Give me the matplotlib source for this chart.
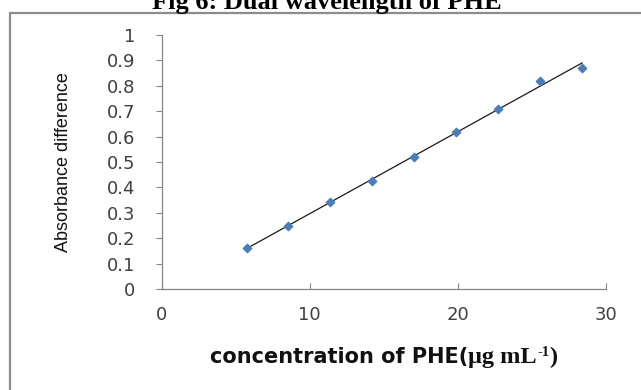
import numpy as np
import matplotlib
matplotlib.use("Agg")
import matplotlib.pyplot as plt
from matplotlib.patches import Rectangle

# concentration of PHE (ug/mL) vs absorbance difference
conc = [5.74, 8.54, 11.38, 14.24, 17.05, 19.88, 22.71, 25.57, 28.41]
absorb = [0.162, 0.247, 0.343, 0.427, 0.521, 0.619, 0.709, 0.819, 0.870]
x_ticks = [0, 10, 20, 30]
y_ticks = [0, 0.1, 0.2, 0.3, 0.4, 0.5, 0.6, 0.7, 0.8, 0.9, 1]
y_ticklabels = ["0", "0.1", "0.2", "0.3", "0.4", "0.5", "0.6", "0.7", "0.8", "0.9", "1"]

W, H = 641, 390
AXIS_GRAY = "#868686"
TEXT_GRAY = "#404040"

fig = plt.figure(figsize=(W / 100, H / 100), dpi=100)
fig.patch.set_facecolor("white")

# outer frame (runs off the right and bottom edges)
fig.patches.append(Rectangle((10 / W, -0.1), 1.2, 1 - 13 / H + 0.1,
                             transform=fig.transFigure, fill=False,
                             edgecolor="#8c8c8c", linewidth=1.6))

ax = fig.add_axes([161.7 / W, 1 - 289.3 / H, 444 / W, 254.6 / H])
ax.set_xlim(0, 30)
ax.set_ylim(0, 1)

# linear trendline over data range
slope, icpt = np.polyfit(conc, absorb, 1)
xs = np.array([min(conc), max(conc)])
ax.plot(xs, slope * xs + icpt, color="#1a1a1a", lw=0.9, zorder=2)
ax.scatter(conc, absorb, marker="D", s=18, color="#4a7ebb",
           edgecolors="#4a7ebb", zorder=3)

for side in ("top", "right"):
    ax.spines[side].set_visible(False)
for side in ("left", "bottom"):
    ax.spines[side].set_color(AXIS_GRAY)
    ax.spines[side].set_linewidth(0.9)

ax.set_xticks(x_ticks)
ax.set_yticks(y_ticks)
ax.set_yticklabels(y_ticklabels)
ax.tick_params(axis="x", direction="in", length=4, width=0.8,
               color=AXIS_GRAY, pad=12, labelsize=13, labelcolor=TEXT_GRAY)
ax.tick_params(axis="y", direction="out", length=4, width=0.8,
               color=AXIS_GRAY, pad=15, labelsize=13, labelcolor=TEXT_GRAY)

# title, cropped at the top edge like the source
fig.text(327 / W, 1 - 9 / H, "Fig 6: Dual wavelength of PHE",
         ha="center", va="baseline", fontsize=19, fontweight="bold",
         family=["Liberation Serif", "DejaVu Serif"])

# y axis title
fig.text(63 / W, 1 - 162 / H, "Absorbance difference", rotation=90,
         ha="center", va="center", fontsize=13, color="#111111",
         family=["Liberation Sans", "DejaVu Sans"])

# x axis title built from pieces with mixed fonts
base_y = 1 - 363 / H
fig.canvas.draw()
r = fig.canvas.get_renderer()
serif = ["Liberation Serif", "DejaVu Serif"]
pieces = [
    ("concentration of PHE(", dict(family="DejaVu Sans", fontsize=15, fontweight="bold"), 0),
    ("\u03bcg mL", dict(family=serif, fontsize=17.5, fontweight="bold"), 0),
    ("-1", dict(family=serif, fontsize=10.5, fontweight="bold"), 7),
    (")", dict(family=serif, fontsize=17.5, fontweight="bold"), 0),
]
texts = []
xpos = 0.0
for s, kw, rise in pieces:
    t = fig.text(xpos, base_y + rise / H, s, ha="left", va="baseline",
                 color="#111111", **kw)
    texts.append(t)
    xpos += t.get_window_extent(r).width / W
off = 383.7 / W - xpos / 2
for t in texts:
    t.set_x(off)
    off += t.get_window_extent(r).width / W

fig.savefig("out.png", dpi=100, facecolor="white")
